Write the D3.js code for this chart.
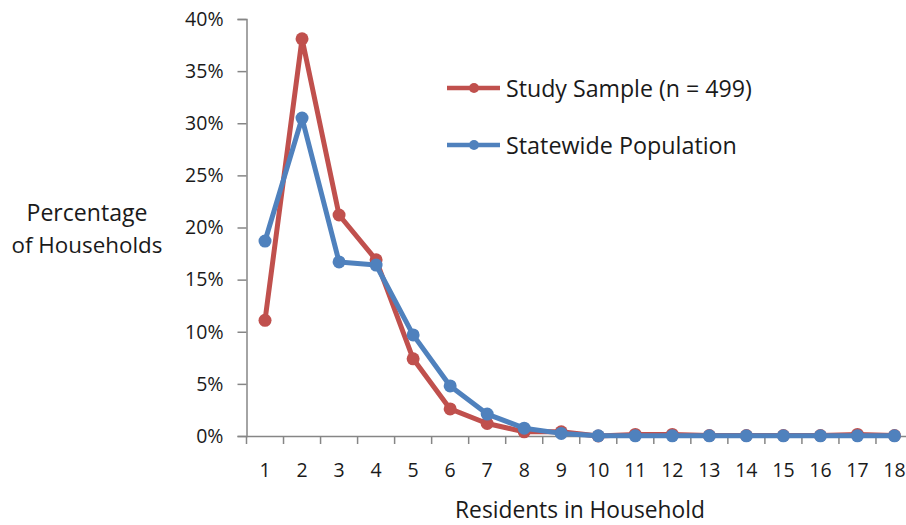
<!DOCTYPE html>
<html><head><meta charset="utf-8">
<script src="https://cdn.jsdelivr.net/npm/d3@7"></script>
<style>body{margin:0;background:#fff}svg{display:block}</style>
</head><body>
<svg id="c" width="906" height="525"></svg>
<script>
const categories = ["1","2","3","4","5","6","7","8","9","10","11","12","13","14","15","16","17","18"];
const studySample = [11.1,38.1,21.2,16.9,7.4,2.6,1.2,0.4,0.4,0.0,0.15,0.15,0.05,0.05,0.05,0.05,0.15,0.05];
const statewide = [18.7,30.5,16.7,16.4,9.7,4.8,2.1,0.75,0.25,0.02,0.02,0.02,0.02,0.02,0.02,0.02,0.02,0.02];
const yTicks = [0,5,10,15,20,25,30,35,40];
const seriesNames = ["Study Sample (n = 499)","Statewide Population"];
const colors = ["#C0504D","#4F81BD"];

const svg = d3.select("#c");
const font = "'Open Sans', Lato, sans-serif";
const pLeft = 246.5, pRight = 913, pTop = 19, pBottom = 436;
const x = d3.scaleBand().domain(categories).range([pLeft, pRight]);
const y = d3.scaleLinear().domain([0,40]).range([pBottom, pTop]);
const axisColor = "#868686";
const textColor = "#1a1a1a";

// fit a text element's font size to a target width
function fit(sel, target, base) {
  sel.attr("font-size", base);
  const w = sel.node().getComputedTextLength();
  sel.attr("font-size", base * target / w);
}

// y axis
const ya = svg.append("g").attr("transform",`translate(${pLeft},0)`)
  .call(d3.axisLeft(y).tickValues(yTicks).tickFormat(d=>d+"%").tickSize(9).tickPadding(14));
ya.select(".domain").attr("stroke",axisColor).attr("stroke-width",1.5);
ya.selectAll(".tick line").attr("stroke",axisColor).attr("stroke-width",1.5);
ya.selectAll("text").attr("font-family",font).attr("font-size",19.5).attr("fill",textColor);

// x axis
const xa = svg.append("g").attr("transform",`translate(0,${pBottom})`)
  .call(d3.axisBottom(x).tickSize(0).tickPadding(27));
xa.select(".domain").attr("stroke",axisColor).attr("stroke-width",1.5);
xa.selectAll("text").attr("font-family",font).attr("font-size",19.5).attr("fill",textColor);
const bounds = categories.map((c,i)=>pLeft + i*x.bandwidth()).concat([pRight]);
xa.selectAll(".bt").data(bounds).enter().append("line")
  .attr("x1",d=>d).attr("x2",d=>d).attr("y1",0).attr("y2",8)
  .attr("stroke",axisColor).attr("stroke-width",1.5);

// titles
const yt1 = svg.append("text").attr("x",87).attr("y",221).attr("text-anchor","middle")
  .attr("font-family",font).attr("fill",textColor).text("Percentage");
fit(yt1, 121, 20);
const yt2 = svg.append("text").attr("x",87).attr("y",252.5).attr("text-anchor","middle")
  .attr("font-family",font).attr("fill",textColor).text("of Households");
fit(yt2, 151, 20);
const xt = svg.append("text").attr("x",580).attr("y",517.5).attr("text-anchor","middle")
  .attr("font-family",font).attr("fill",textColor).text("Residents in Household");
fit(xt, 250, 20);

// series
const cx = c => x(c) + x.bandwidth()/2;
const line = d3.line().x((d,i)=>cx(categories[i])).y(d=>y(d));
[studySample, statewide].forEach((data,k)=>{
  const g = svg.append("g");
  g.append("path").datum(data).attr("d",line).attr("fill","none")
    .attr("stroke",colors[k]).attr("stroke-width",5).attr("stroke-linejoin","round");
  g.selectAll("circle").data(data).enter().append("circle")
    .attr("cx",(d,i)=>cx(categories[i])).attr("cy",d=>y(d)).attr("r",6.5).attr("fill",colors[k]);
});

// legend
const legY = [88,145];
const legW = [246,231];
seriesNames.forEach((n,k)=>{
  const g = svg.append("g");
  g.append("line").attr("x1",447).attr("x2",500).attr("y1",legY[k]).attr("y2",legY[k])
    .attr("stroke",colors[k]).attr("stroke-width",4.5);
  g.append("circle").attr("cx",474).attr("cy",legY[k]).attr("r",5).attr("fill",colors[k]);
  const t = g.append("text").attr("x",506).attr("y",legY[k]+8.5).attr("font-family",font)
    .attr("fill",textColor).text(n);
  fit(t, legW[k], 21);
});
</script>
</body></html>
